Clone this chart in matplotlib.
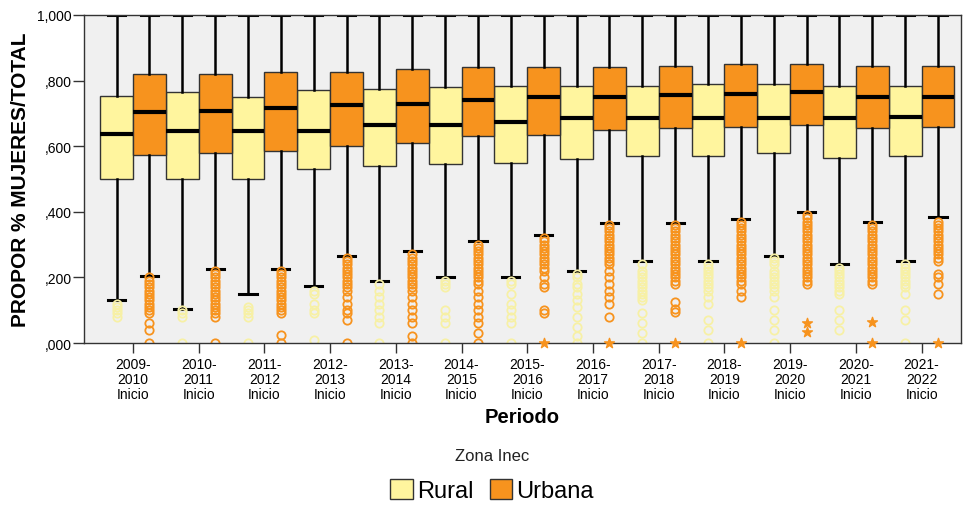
import matplotlib
matplotlib.use("Agg")
import matplotlib.pyplot as plt
from matplotlib.patches import Patch

plt.rcParams['font.family'] = ['Liberation Sans', 'DejaVu Sans']

periods = ["2009-\n2010\nInicio", "2010-\n2011\nInicio", "2011-\n2012\nInicio",
           "2012-\n2013\nInicio", "2013-\n2014\nInicio", "2014-\n2015\nInicio",
           "2015-\n2016\nInicio", "2016-\n2017\nInicio", "2017-\n2018\nInicio",
           "2018-\n2019\nInicio", "2019-\n2020\nInicio", "2020-\n2021\nInicio",
           "2021-\n2022\nInicio"]

# Rural box statistics
rural_q1 = [0.500, 0.500, 0.500, 0.530, 0.540, 0.545, 0.550, 0.560, 0.570, 0.570, 0.580, 0.565, 0.570]
rural_med = [0.638, 0.645, 0.645, 0.645, 0.665, 0.665, 0.675, 0.685, 0.685, 0.685, 0.687, 0.685, 0.690]
rural_q3 = [0.752, 0.765, 0.750, 0.770, 0.775, 0.780, 0.785, 0.785, 0.785, 0.790, 0.790, 0.785, 0.785]
rural_lo = [0.130, 0.105, 0.150, 0.175, 0.190, 0.200, 0.200, 0.220, 0.250, 0.250, 0.265, 0.240, 0.250]
rural_hi = [1.0] * 13
rural_fliers = [
    [0.12, 0.11, 0.10, 0.09, 0.08],
    [0.10, 0.09, 0.08, 0.0],
    [0.11, 0.10, 0.09, 0.08, 0.0],
    [0.16, 0.15, 0.12, 0.10, 0.09, 0.01],
    [0.18, 0.16, 0.14, 0.12, 0.10, 0.08, 0.06, 0.0],
    [0.19, 0.18, 0.17, 0.10, 0.08, 0.06, 0.0],
    [0.19, 0.18, 0.15, 0.12, 0.10, 0.08, 0.06, 0.0],
    [0.21, 0.20, 0.18, 0.17, 0.15, 0.13, 0.11, 0.08, 0.05, 0.02, 0.0],
    [0.24, 0.22, 0.21, 0.20, 0.19, 0.18, 0.17, 0.16, 0.15, 0.14, 0.13, 0.09, 0.06, 0.03, 0.0],
    [0.24, 0.23, 0.22, 0.21, 0.20, 0.19, 0.18, 0.17, 0.16, 0.14, 0.12, 0.07, 0.04, 0.0],
    [0.26, 0.25, 0.24, 0.22, 0.21, 0.20, 0.19, 0.18, 0.17, 0.16, 0.14, 0.10, 0.07, 0.04, 0.0],
    [0.23, 0.22, 0.21, 0.20, 0.19, 0.18, 0.17, 0.16, 0.15, 0.10, 0.07, 0.04],
    [0.24, 0.23, 0.22, 0.21, 0.20, 0.19, 0.18, 0.17, 0.15, 0.10, 0.07, 0.0],
]

# Urban box statistics
urban_q1 = [0.573, 0.580, 0.585, 0.600, 0.610, 0.630, 0.635, 0.650, 0.655, 0.660, 0.665, 0.655, 0.660]
urban_med = [0.703, 0.708, 0.715, 0.725, 0.730, 0.740, 0.750, 0.750, 0.755, 0.760, 0.765, 0.750, 0.750]
urban_q3 = [0.820, 0.820, 0.825, 0.825, 0.835, 0.840, 0.840, 0.840, 0.845, 0.850, 0.850, 0.845, 0.845]
urban_lo = [0.205, 0.225, 0.225, 0.265, 0.280, 0.310, 0.330, 0.365, 0.365, 0.378, 0.400, 0.370, 0.383]
urban_hi = [1.0] * 13
urban_fliers = [
    [0.20, 0.19, 0.18, 0.17, 0.16, 0.15, 0.14, 0.13, 0.12, 0.11, 0.10, 0.09, 0.06, 0.04, 0.0],
    [0.22, 0.21, 0.20, 0.19, 0.18, 0.17, 0.16, 0.15, 0.14, 0.13, 0.12, 0.11, 0.10, 0.09, 0.08, 0.0],
    [0.22, 0.21, 0.20, 0.19, 0.18, 0.17, 0.16, 0.15, 0.14, 0.13, 0.12, 0.11, 0.10, 0.09, 0.025, 0.0],
    [0.26, 0.25, 0.24, 0.23, 0.22, 0.21, 0.20, 0.19, 0.18, 0.17, 0.16, 0.14, 0.12, 0.10, 0.09, 0.07, 0.0],
    [0.27, 0.26, 0.25, 0.24, 0.23, 0.22, 0.21, 0.20, 0.19, 0.18, 0.17, 0.16, 0.14, 0.12, 0.10, 0.08, 0.06, 0.02, 0.0],
    [0.30, 0.29, 0.28, 0.27, 0.26, 0.25, 0.24, 0.23, 0.22, 0.21, 0.20, 0.19, 0.18, 0.16, 0.14, 0.12, 0.10, 0.08, 0.06, 0.03, 0.0],
    [0.32, 0.31, 0.30, 0.29, 0.28, 0.27, 0.26, 0.25, 0.24, 0.23, 0.22, 0.20, 0.18, 0.17, 0.10, 0.09],
    [0.36, 0.35, 0.34, 0.33, 0.32, 0.31, 0.30, 0.29, 0.28, 0.27, 0.26, 0.25, 0.24, 0.22, 0.20, 0.18, 0.16, 0.14, 0.12, 0.08],
    [0.36, 0.35, 0.34, 0.33, 0.32, 0.31, 0.30, 0.29, 0.28, 0.27, 0.26, 0.25, 0.24, 0.23, 0.22, 0.21, 0.20, 0.19, 0.18, 0.125, 0.105, 0.094],
    [0.37, 0.36, 0.35, 0.34, 0.33, 0.32, 0.31, 0.30, 0.29, 0.28, 0.27, 0.26, 0.25, 0.24, 0.23, 0.22, 0.21, 0.20, 0.19, 0.18, 0.16, 0.14],
    [0.39, 0.38, 0.37, 0.36, 0.35, 0.34, 0.33, 0.32, 0.31, 0.30, 0.29, 0.28, 0.27, 0.26, 0.25, 0.24, 0.23, 0.22, 0.21, 0.20, 0.19, 0.18],
    [0.36, 0.35, 0.34, 0.33, 0.32, 0.31, 0.30, 0.29, 0.28, 0.27, 0.26, 0.25, 0.24, 0.23, 0.22, 0.21, 0.20, 0.19, 0.18],
    [0.37, 0.36, 0.35, 0.34, 0.33, 0.32, 0.31, 0.30, 0.29, 0.28, 0.27, 0.26, 0.25, 0.21, 0.20, 0.18, 0.15],
]
# Extreme values (stars), urban
urban_extreme_idx = [6, 7, 8, 9, 10, 10, 11, 11, 12]
urban_extreme_val = [0.0, 0.0, 0.0, 0.0, 0.06, 0.035, 0.065, 0.0, 0.0]

yticks = [0.0, 0.2, 0.4, 0.6, 0.8, 1.0]
yticklabels = [",000", ",200", ",400", ",600", ",800", "1,000"]

rural_color = "#FFF59E"
urban_color = "#F7931E"
rural_flier_color = "#F7F0A6"

fig = plt.figure(figsize=(9.63, 5.06), dpi=100)
ax = fig.add_axes([84 / 963, 162 / 506, (961 - 84) / 963, 328 / 506])
ax.set_facecolor("#F0F0F0")

def make_stats(q1, med, q3, lo, hi, fl):
    return [dict(q1=a, med=b, q3=c, whislo=d, whishi=e, fliers=f)
            for a, b, c, d, e, f in zip(q1, med, q3, lo, hi, fl)]

n = len(periods)
common = dict(widths=0.5, capwidths=0.26, patch_artist=True,
              whiskerprops=dict(color="black", linewidth=1.8),
              capprops=dict(color="black", linewidth=2.2),
              medianprops=dict(color="black", linewidth=3))

ax.bxp(make_stats(rural_q1, rural_med, rural_q3, rural_lo, rural_hi, rural_fliers),
       positions=[i - 0.25 for i in range(n)],
       boxprops=dict(facecolor=rural_color, edgecolor="#333333", linewidth=1),
       flierprops=dict(marker="o", markerfacecolor="none", markeredgecolor=rural_flier_color,
                       markersize=6, markeredgewidth=1.3),
       **common)
ax.bxp(make_stats(urban_q1, urban_med, urban_q3, urban_lo, urban_hi, urban_fliers),
       positions=[i + 0.25 for i in range(n)],
       boxprops=dict(facecolor=urban_color, edgecolor="#333333", linewidth=1),
       flierprops=dict(marker="o", markerfacecolor="none", markeredgecolor=urban_color,
                       markersize=6, markeredgewidth=1.3),
       **common)
ax.scatter([i + 0.25 for i in urban_extreme_idx], urban_extreme_val, marker="*",
           color=urban_color, s=55, zorder=5, clip_on=False)

ax.set_xlim(-0.745, 12.6)
ax.set_ylim(0, 1.0)
ax.set_xticks(range(n))
ax.set_xticklabels(periods, fontsize=10, linespacing=1.1)
ax.set_yticks(yticks)
ax.set_yticklabels(yticklabels, fontsize=10)
ax.tick_params(axis="x", direction="out", length=7.5, width=1, color="#333333", pad=2.5)
ax.tick_params(axis="y", direction="out", length=8, width=1, color="#333333", pad=1)
for s in ax.spines.values():
    s.set_color("#333333")
    s.set_linewidth(1)

ax.set_ylabel("PROPOR % MUJERES/TOTAL", fontsize=15, fontweight="bold", labelpad=5)
ax.set_xlabel("Periodo", fontsize=14.5, fontweight="bold", labelpad=4)

handles = [Patch(facecolor=rural_color, edgecolor="#333333"),
           Patch(facecolor=urban_color, edgecolor="#333333")]
leg = fig.legend(handles, ["Rural", "Urbana"], loc="center",
                 bbox_to_anchor=(492 / 963, 1 - 476 / 506), ncol=2, frameon=False,
                 title="Zona Inec", fontsize=17, title_fontsize=12,
                 handlelength=0.95, handleheight=0.95, columnspacing=0.7,
                 handletextpad=0.17, borderpad=0.2, labelspacing=0.7)
leg.get_title().set_color("#222222")

fig.savefig("out.png", dpi=100)
